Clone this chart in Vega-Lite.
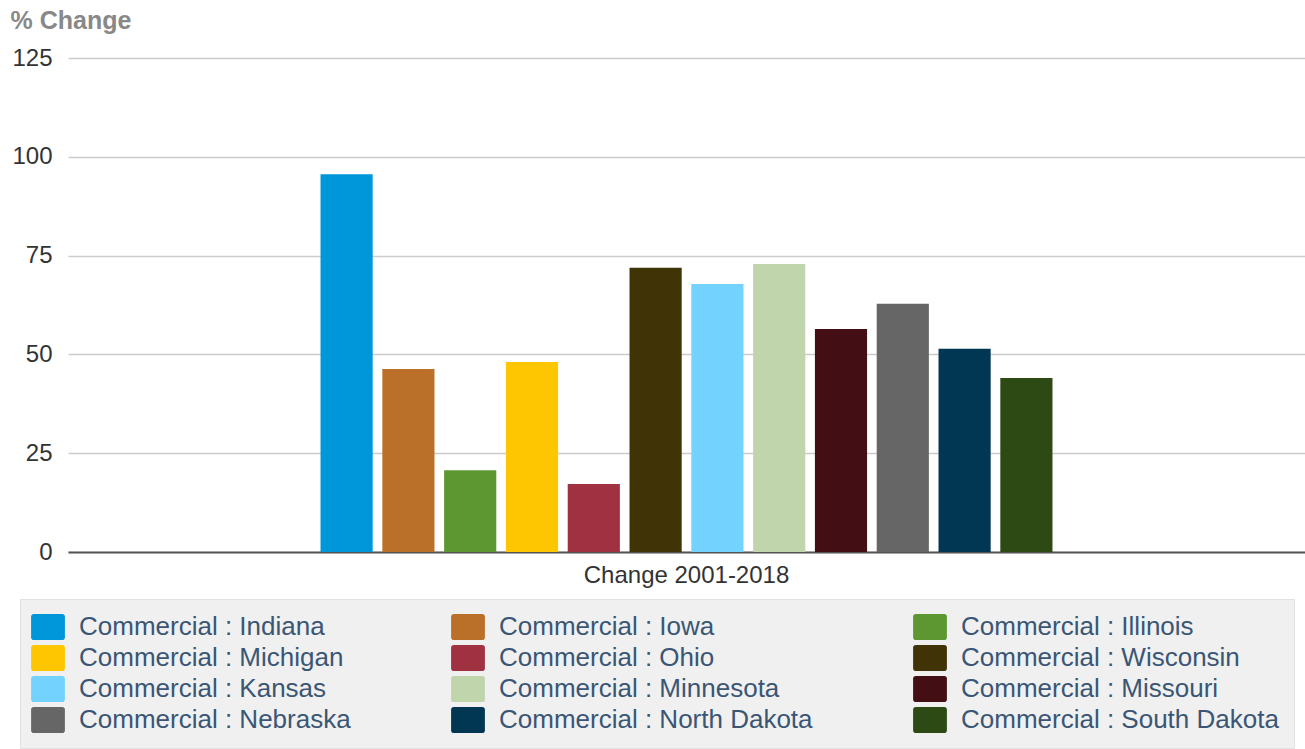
{
  "$schema": "https://vega.github.io/schema/vega-lite/v6.json",
  "width": 1237,
  "height": 494,
  "autosize": {"type": "none"},
  "padding": {"left": 68, "top": 58, "right": 0, "bottom": 197},
  "background": "white",
  "config": {
    "font": "Liberation Sans",
    "view": {"stroke": null}
  },
  "data": {
    "values": [
      {"category": "Change 2001-2018", "series": "Commercial : Indiana", "value": 95.6},
      {"category": "Change 2001-2018", "series": "Commercial : Iowa", "value": 46.3},
      {"category": "Change 2001-2018", "series": "Commercial : Illinois", "value": 20.7},
      {"category": "Change 2001-2018", "series": "Commercial : Michigan", "value": 48.1},
      {"category": "Change 2001-2018", "series": "Commercial : Ohio", "value": 17.2},
      {"category": "Change 2001-2018", "series": "Commercial : Wisconsin", "value": 71.9},
      {"category": "Change 2001-2018", "series": "Commercial : Kansas", "value": 67.8},
      {"category": "Change 2001-2018", "series": "Commercial : Minnesota", "value": 72.9},
      {"category": "Change 2001-2018", "series": "Commercial : Missouri", "value": 56.4},
      {"category": "Change 2001-2018", "series": "Commercial : Nebraska", "value": 62.8},
      {"category": "Change 2001-2018", "series": "Commercial : North Dakota", "value": 51.4},
      {"category": "Change 2001-2018", "series": "Commercial : South Dakota", "value": 44.0}
    ]
  },
  "mark": {"type": "bar"},
  "encoding": {
    "x": {
      "field": "category",
      "type": "nominal",
      "scale": {"paddingInner": 0, "paddingOuter": 0.345},
      "axis": {
        "title": null,
        "labelAngle": 0,
        "labelFontSize": 24,
        "labelColor": "#333333",
        "labelPadding": 11,
        "labelLimit": 600,
        "ticks": false,
        "domainColor": "#555555",
        "domainWidth": 2
      }
    },
    "xOffset": {
      "field": "series",
      "type": "nominal",
      "sort": null,
      "scale": {"paddingInner": 0.156, "paddingOuter": 0}
    },
    "y": {
      "field": "value",
      "type": "quantitative",
      "scale": {"domain": [0, 125], "nice": false},
      "axis": {
        "values": [0, 25, 50, 75, 100, 125],
        "domain": false,
        "ticks": false,
        "labelFontSize": 24,
        "labelColor": "#333333",
        "labelPadding": 16,
        "gridColor": "#cccccc",
        "gridWidth": 1.5,
        "title": "% Change",
        "titleAngle": 0,
        "titleAlign": "left",
        "titleBaseline": "middle",
        "titleX": -58,
        "titleY": -38,
        "titleFontSize": 25,
        "titleFontWeight": "bold",
        "titleColor": "#888888"
      }
    },
    "color": {
      "field": "series",
      "type": "nominal",
      "sort": null,
      "scale": {
        "domain": [
          "Commercial : Indiana", "Commercial : Iowa", "Commercial : Illinois", "Commercial : Michigan",
          "Commercial : Ohio", "Commercial : Wisconsin", "Commercial : Kansas", "Commercial : Minnesota",
          "Commercial : Missouri", "Commercial : Nebraska", "Commercial : North Dakota", "Commercial : South Dakota"
        ],
        "range": [
          "#0096da", "#bb7029", "#5c9732", "#fec601",
          "#9f3140", "#403306", "#73d3fe", "#c0d5ab",
          "#440f14", "#666666", "#023754", "#2d4a14"
        ]
      },
      "legend": {
        "title": null,
        "orient": "none",
        "legendX": -48,
        "legendY": 541,
        "columns": 3,
        "direction": "horizontal",
        "columnPadding": 100,
        "rowPadding": 5,
        "padding": 15,
        "fillColor": "#f0f0f0",
        "strokeColor": "#e2e2e2",
        "labelFontSize": 26,
        "labelColor": "#3a5674",
        "labelLimit": 400,
        "labelOffset": 18,
        "symbolType": "M-1.1,-1H1.1A0.2,0.2,0,0,1,1.3,-0.8V0.8A0.2,0.2,0,0,1,1.1,1H-1.1A0.2,0.2,0,0,1,-1.3,0.8V-0.8A0.2,0.2,0,0,1,-1.1,-1Z",
        "symbolSize": 676,
        "symbolStrokeWidth": 0,
        "symbolOpacity": 1
      }
    }
  }
}
